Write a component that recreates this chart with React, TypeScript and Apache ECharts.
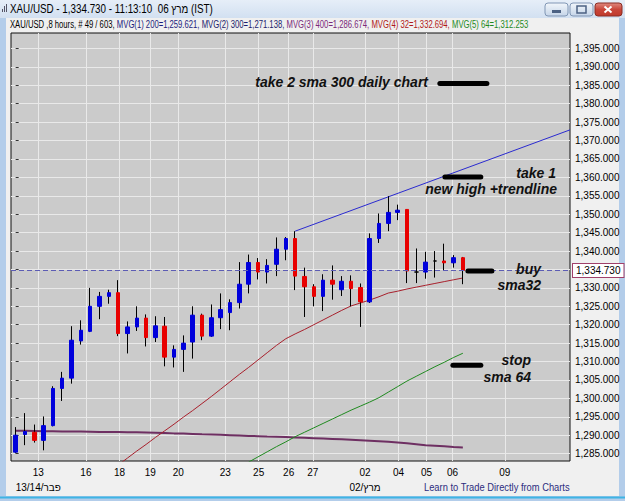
import React, { useEffect, useRef } from 'react';
import * as echarts from 'echarts';

// ---- candle data (8-hour bars, XAU/USD) ----
const OPEN = [1285.4, 1290.2, 1290.8, 1288.6, 1292.6, 1302.7, 1305.5, 1315.6, 1318.2, 1325.0,
  1327.7, 1328.7, 1317.6, 1319.4, 1321.8, 1316.5, 1319.6, 1311.2, 1313.3, 1315.3,
  1322.6, 1316.9, 1321.9, 1323.3, 1326.0, 1331.0, 1336.9, 1334.3, 1336.4, 1340.5,
  1343.4, 1333.1, 1330.3, 1327.7, 1332.1, 1329.5, 1331.8, 1330.1, 1326.2, 1343.4,
  1347.5, 1350.5, 1351.3, 1334.3, 1334.3, 1337.3, 1337.3, 1336.8, 1338.2];
const CLOSE = [1290.0, 1291.0, 1288.6, 1292.6, 1302.7, 1305.5, 1315.8, 1318.5, 1325.0, 1327.7,
  1328.7, 1317.6, 1319.4, 1321.8, 1316.5, 1319.7, 1311.2, 1313.3, 1315.0, 1322.6,
  1316.9, 1321.9, 1324.1, 1326.0, 1331.0, 1336.9, 1334.3, 1336.1, 1340.5, 1343.4,
  1333.2, 1330.3, 1327.7, 1332.1, 1331.0, 1331.8, 1329.8, 1326.2, 1343.4, 1347.5,
  1350.5, 1351.1, 1334.6, 1334.3, 1337.0, 1337.3, 1336.8, 1338.2, 1334.73];
const LOW = [1285.1, 1287.3, 1288.0, 1285.9, 1292.4, 1299.3, 1304.0, 1314.6, 1318.0, 1321.5,
  1325.7, 1316.9, 1312.2, 1318.3, 1314.1, 1315.3, 1308.7, 1308.4, 1307.2, 1310.8,
  1315.8, 1316.7, 1318.8, 1318.5, 1324.4, 1328.5, 1332.3, 1331.2, 1333.2, 1337.5,
  1329.4, 1322.1, 1325.0, 1323.7, 1326.8, 1327.8, 1325.0, 1319.4, 1325.9, 1342.2,
  1345.4, 1348.4, 1331.3, 1331.3, 1332.5, 1332.8, 1334.8, 1335.5, 1331.0];
const HIGH = [1292.2, 1296.0, 1292.9, 1295.1, 1303.3, 1307.2, 1319.6, 1321.2, 1330.0, 1328.9,
  1329.5, 1332.1, 1320.9, 1325.0, 1322.8, 1322.3, 1322.1, 1314.4, 1317.1, 1325.0,
  1323.0, 1325.5, 1328.5, 1326.9, 1337.0, 1339.05, 1338.1, 1337.8, 1343.7, 1343.8,
  1345.4, 1335.5, 1331.0, 1333.7, 1336.1, 1333.2, 1333.4, 1331.2, 1344.8, 1350.2,
  1354.9, 1352.6, 1351.3, 1340.7, 1339.8, 1340.0, 1342.0, 1338.9, 1338.4];

// ---- moving averages ----
const SMA32 = [null, null, null, null, null, null, null, null, null, null, null,
  1281.9, 1283.8, 1285.7, 1287.5, 1289.4, 1291.2, 1293.0, 1294.9, 1296.7, 1298.6,
  1300.5, 1302.5, 1304.5, 1306.5, 1308.4, 1310.4, 1312.4, 1314.4, 1316.2, 1317.5,
  1318.7, 1320.0, 1321.3, 1322.6, 1323.9, 1325.1, 1325.9, 1326.7, 1327.6, 1328.6,
  1329.1, 1329.7, 1330.2, 1330.7, 1331.2, 1331.7, 1332.2, 1332.69];
const SMA64 = [null, null, null, null, null, null, null, null, null, null,
  null, null, null, null, null, null, null, null, null, null,
  null, null, null, null, null,
  1282.7, 1284.1, 1285.5, 1286.9, 1288.2, 1289.6, 1290.8, 1292.0, 1293.2, 1294.4,
  1295.6, 1296.8, 1297.9, 1299.0, 1300.2, 1301.7, 1303.2, 1304.7, 1306.0, 1307.3,
  1308.6, 1309.8, 1311.1, 1312.25];
const SMA400 = [1291.2, 1291.2, 1291.15, 1291.1, 1291.1, 1291.0, 1291.0, 1291.0, 1290.95, 1290.9,
  1290.9, 1290.85, 1290.8, 1290.8, 1290.75, 1290.7, 1290.6, 1290.5, 1290.45, 1290.35,
  1290.25, 1290.2, 1290.1, 1290.0, 1289.9, 1289.8, 1289.75, 1289.65, 1289.6, 1289.5,
  1289.4, 1289.3, 1289.2, 1289.1, 1289.0, 1288.9, 1288.8, 1288.65, 1288.5, 1288.35,
  1288.2, 1288.0, 1287.8, 1287.55, 1287.3, 1287.15, 1287.0, 1286.8, 1286.67];

// ---- trendline & annotation bars (data coordinates: bar index, price) ----
const TREND_X = [30, 59.5];
const TREND_Y = [1345.4, 1372.9];
const NOTE_X1 = [45.53, 46.07, 48.54, 46.93];
const NOTE_X2 = [50.58, 49.93, 51.12, 49.93];
const NOTE_Y = [1385.5, 1360.1, 1334.6, 1309.0];
const NOTE_TEXTS = ['take 2 sma 300 daily chart', 'take 1', 'new high +trendline', 'buy', 'sma32', 'stop', 'sma 64'];

const LAST_PRICE = 1334.73;

// ---- axes ----
const X_TICK_POS = [2.43, 7.54, 11.15, 14.45, 17.45, 22.5, 26.08, 29.3, 31.9, 37.5, 41.1, 44.1, 46.9, 52.5];
const X_TICK_LABELS = ['13', '16', '18', '19', '20', '23', '25', '26', '27', '02', '04', '05', '06', '09'];
const X_MONTH_LABELS = ['13/14/פבר', '', '', '', '', '', '', '', '', '02/מרץ', '', '', '', ''];
const Y_TICKS = [1285, 1290, 1295, 1300, 1305, 1310, 1315, 1320, 1325, 1330, 1335, 1340, 1345,
  1350, 1355, 1360, 1365, 1370, 1375, 1380, 1385, 1390, 1395];

const BLUE = '#0000dc';
const RED = '#e80000';
const AXIS_FONT = "'Liberation Sans Narrow', 'Liberation Sans', Arial, sans-serif";
const UI_FONT = "'Liberation Sans', Arial, sans-serif";

function measure(text: string, font: string): number {
  const c = document.createElement('canvas').getContext('2d');
  if (!c) return 0;
  c.font = font;
  return c.measureText(text).width;
}

function fmtPrice(v: number): string {
  return v.toLocaleString('en-US', { minimumFractionDigits: 3, maximumFractionDigits: 3 });
}

export default function App() {
  const ref = useRef<HTMLDivElement>(null);
  useEffect(() => {
    const el = ref.current;
    if (!el) return;
    const chart = echarts.init(el, null, { renderer: 'svg' });

    const wickData = OPEN.map((o, i) => [i, o, CLOSE[i], LOW[i], HIGH[i]]);
    const bodyData = OPEN.map((o, i) => [i, o, CLOSE[i], Math.min(o, CLOSE[i]), Math.max(o, CLOSE[i])]);
    const toLine = (arr: (number | null)[]) =>
      arr.map((v, i) => (v == null ? null : [i, v])).filter((p) => p != null);

    // header texts
    const titleText = 'XAU/USD - 1,334.730 - 11:13:10  06 מרץ (IST)';
    const titleFont = `12px ${UI_FONT}`;
    const titleScale = Math.min(1.2, 203 / (measure(titleText, titleFont) || 203));

    const subSegs = [
      ['XAU/USD ,8 hours, # 49 / 603, ', '#000000'],
      ['MVG(1) 200=1,259.621, ', '#1c1c7c'],
      ['MVG(2) 300=1,271.138, ', '#1c1c6c'],
      ['MVG(3) 400=1,286.674, ', '#7a2a7a'],
      ['MVG(4) 32=1,332.694, ', '#b01818'],
      ['MVG(5) 64=1,312.253', '#1e8a1e'],
    ];
    const subFont = `10px ${UI_FONT}`;
    const subPlain = subSegs.map((s) => s[0]).join('');
    const subScale = 518 / (measure(subPlain, subFont) || 518);
    const rich: Record<string, any> = {};
    subSegs.forEach((s, k) => {
      rich['s' + k] = { fill: s[1], color: s[1], fontSize: 10, fontFamily: UI_FONT };
    });
    const subRich = subSegs.map((s, k) => `{s${k}|${s[0]}}`).join('');

    const footText = 'Learn to Trade Directly from Charts';
    const footFont = `11px ${UI_FONT}`;
    const footScale = 146 / (measure(footText, footFont) || 146);

    const noteStyle = (text: string) => ({
      text,
      fill: '#111111',
      fontSize: 14,
      fontWeight: 'bold',
      fontStyle: 'italic',
      fontFamily: UI_FONT,
      textAlign: 'right',
      textVerticalAlign: 'middle',
      verticalAlign: 'middle',
    });
    const notePos = [
      [428, 82], [556, 173], [557, 189], [541, 269], [541, 285], [531, 360], [531, 377],
    ];

    const btnGrad = {
      type: 'linear', x: 0, y: 0, x2: 0, y2: 1,
      colorStops: [{ offset: 0, color: '#f2f6fb' }, { offset: 1, color: '#c5d5e8' }],
    };

    const graphic: any[] = [
      // window frame
      {
        type: 'rect', shape: { x: 0, y: 0, width: 625, height: 18 }, silent: true,
        style: {
          fill: {
            type: 'linear', x: 0, y: 0, x2: 0, y2: 1,
            colorStops: [{ offset: 0, color: '#e6eef8' }, { offset: 1, color: '#d2e0f1' }],
          },
        },
      },
      { type: 'rect', shape: { x: 0, y: 18, width: 6, height: 483 }, style: { fill: '#b3cdea' }, silent: true },
      { type: 'rect', shape: { x: 619, y: 18, width: 6, height: 483 }, style: { fill: '#b3cdea' }, silent: true },
      { type: 'rect', shape: { x: 0, y: 496, width: 625, height: 5 }, style: { fill: '#b3cdea' }, silent: true },
      { type: 'line', shape: { x1: 0, y1: 497.5, x2: 625, y2: 497.5 }, style: { stroke: '#3fb4e4', lineWidth: 2 }, silent: true },
      // title icon
      { type: 'rect', shape: { x: 2, y: 9, width: 1, height: 3 }, style: { fill: '#556' }, silent: true },
      { type: 'rect', shape: { x: 4, y: 6, width: 1, height: 6 }, style: { fill: '#556' }, silent: true },
      { type: 'rect', shape: { x: 6, y: 4, width: 1, height: 8 }, style: { fill: '#556' }, silent: true },
      // title text
      {
        type: 'text', x: 10, y: 9, scaleX: titleScale, silent: true,
        style: { text: titleText, fill: '#000', fontSize: 12, fontFamily: UI_FONT, textVerticalAlign: 'middle', verticalAlign: 'middle' },
      },
      // window buttons
      { type: 'rect', shape: { x: 545, y: 3, width: 23, height: 13, r: 3 }, style: { fill: btnGrad, stroke: '#8096b4', lineWidth: 1 }, silent: true },
      { type: 'rect', shape: { x: 552, y: 10, width: 9, height: 3 }, style: { fill: '#4c6183' }, silent: true },
      { type: 'rect', shape: { x: 570, y: 3, width: 23, height: 13, r: 3 }, style: { fill: btnGrad, stroke: '#8096b4', lineWidth: 1 }, silent: true },
      { type: 'rect', shape: { x: 577, y: 6, width: 9, height: 7 }, style: { fill: 'none', stroke: '#4c6183', lineWidth: 1.5 }, silent: true },
      {
        type: 'rect', shape: { x: 595, y: 3, width: 27, height: 13, r: 3 }, silent: true,
        style: {
          fill: {
            type: 'linear', x: 0, y: 0, x2: 0, y2: 1,
            colorStops: [{ offset: 0, color: '#e08a80' }, { offset: 0.5, color: '#c9463a' }, { offset: 1, color: '#c0392b' }],
          },
          stroke: '#8a2d24', lineWidth: 1,
        },
      },
      { type: 'line', shape: { x1: 604.5, y1: 6.5, x2: 611.5, y2: 12.5 }, style: { stroke: '#fff', lineWidth: 2 }, silent: true },
      { type: 'line', shape: { x1: 611.5, y1: 6.5, x2: 604.5, y2: 12.5 }, style: { stroke: '#fff', lineWidth: 2 }, silent: true },
      // sub header
      {
        type: 'text', x: 10, y: 25, scaleX: subScale, silent: true,
        style: { text: subRich, rich, fontSize: 10, fontFamily: UI_FONT, textVerticalAlign: 'middle', verticalAlign: 'middle' },
      },
      // footer
      {
        type: 'text', x: 424, y: 487, scaleX: footScale, silent: true,
        style: { text: footText, fill: '#2c2c7e', fontSize: 11, fontFamily: UI_FONT, textVerticalAlign: 'middle', verticalAlign: 'middle' },
      },
      // notes
      ...NOTE_TEXTS.map((t, k) => ({
        type: 'text', x: notePos[k][0], y: notePos[k][1], silent: true, z: 100,
        style: noteStyle(t),
      })),
    ];

    const option: any = {
      animation: false,
      backgroundColor: '#f0f0f0',
      textStyle: { fontFamily: UI_FONT },
      grid: {
        left: 11, right: 55, top: 33, bottom: 40,
        show: true, backgroundColor: '#cbcbcb', borderColor: '#111', borderWidth: 1,
        containLabel: false, outerBoundsMode: 'none',
      },
      xAxis: {
        type: 'value', min: -0.5, max: 59.5,
        axisLine: { show: false },
        axisTick: { show: false, customValues: X_TICK_POS },
        splitLine: { show: true, lineStyle: { color: '#e9e9e9', width: 1 } },
        axisLabel: {
          customValues: X_TICK_POS,
          margin: 4,
          lineHeight: 15,
          fontSize: 10,
          fontFamily: AXIS_FONT,
          color: '#000',
          formatter: (v: number) => {
            const k = X_TICK_POS.findIndex((p) => Math.abs(p - v) < 1e-6);
            if (k < 0) return '';
            const m = X_MONTH_LABELS[k];
            return m ? `${X_TICK_LABELS[k]}\n${m}` : X_TICK_LABELS[k];
          },
        },
      },
      yAxis: {
        type: 'value', position: 'right', min: 1283.0, max: 1399.2, scale: true,
        axisLine: { show: false },
        axisTick: { show: true, length: 3, customValues: Y_TICKS, lineStyle: { color: '#333' } },
        splitLine: { show: true, lineStyle: { color: '#e9e9e9', width: 1 } },
        axisLabel: {
          customValues: Y_TICKS.filter((v) => v !== 1335),
          margin: 5,
          fontSize: 10,
          fontFamily: AXIS_FONT,
          color: '#000',
          formatter: (v: number) => fmtPrice(v),
        },
      },
      series: [
        {
          type: 'line', name: 'MVG(3) 400', data: toLine(SMA400), showSymbol: false, z: 2,
          lineStyle: { color: '#6e2f62', width: 2 },
        },
        {
          type: 'line', name: 'MVG(4) 32', data: toLine(SMA32), showSymbol: false, z: 2,
          lineStyle: { color: '#a8202c', width: 1 },
        },
        {
          type: 'line', name: 'MVG(5) 64', data: toLine(SMA64), showSymbol: false, z: 2,
          lineStyle: { color: '#1f8a1f', width: 1 },
        },
        {
          type: 'line', name: 'trend', data: TREND_X.map((x, i) => [x, TREND_Y[i]]), showSymbol: false, z: 2,
          lineStyle: { color: '#2a2ad0', width: 1 },
        },
        {
          type: 'candlestick', name: 'wick', data: wickData, barWidth: 1, z: 3,
          itemStyle: { color: '#000', color0: '#000', borderColor: '#000', borderColor0: '#000', borderColorDoji: '#000', borderWidth: 1 },
        },
        {
          type: 'candlestick', name: 'XAU/USD', data: bodyData, barWidth: 4, z: 4,
          itemStyle: { color: BLUE, color0: RED, borderColor: BLUE, borderColor0: RED, borderColorDoji: '#000', borderWidth: 1 },
          markLine: {
            silent: true, symbol: ['none', 'none'], animation: false,
            data: [{ yAxis: LAST_PRICE }],
            lineStyle: { type: [5, 3], color: '#5c5cb4', width: 1 },
            label: {
              position: 'end', distance: 3, formatter: () => fmtPrice(LAST_PRICE),
              color: '#000', fontSize: 10, fontFamily: AXIS_FONT,
              backgroundColor: '#ffffff', borderColor: '#a0406a', borderWidth: 1, padding: [2, 3, 1, 3],
            },
          },
        },
        ...NOTE_Y.map((y, k) => ({
          type: 'line', name: 'note' + k, data: [[NOTE_X1[k], y], [NOTE_X2[k], y]], showSymbol: false, z: 5,
          lineStyle: { color: '#000', width: 5, cap: 'round' },
        })),
      ],
      graphic,
    };
    chart.setOption(option);
    return () => chart.dispose();
  }, []);
  return <div ref={ref} style={{ position: 'fixed', left: 0, top: 0, width: 625, height: 501 }} />;
}
